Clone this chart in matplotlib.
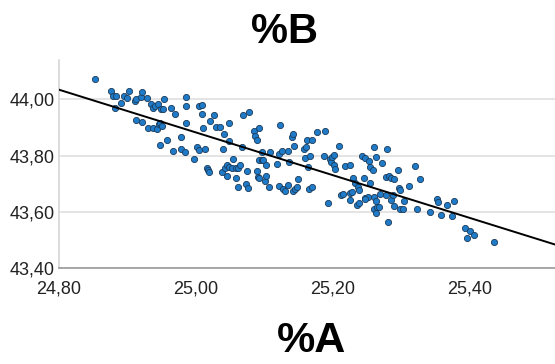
import numpy as np
import matplotlib
matplotlib.use('Agg')
import matplotlib.pyplot as plt

# %A (x) and %B (y) values
pct_a = [
    24.852, 24.876, 24.879, 24.884, 24.882, 24.891, 24.895, 24.899, 24.902, 24.911,
    24.913, 24.913, 24.920, 24.922, 24.922, 24.928, 24.930, 24.934, 24.937, 24.938,
    24.940, 24.943, 24.944, 24.946, 24.947, 24.949, 24.952, 24.948, 24.953, 24.951,
    24.958, 24.963, 24.966, 24.970, 24.978, 24.979, 24.984, 24.986, 24.986, 24.986,
    24.998, 25.001, 25.005, 25.009, 25.005, 25.009, 25.010, 25.013, 25.017, 25.018,
    25.019, 25.021, 25.027, 25.029, 25.035, 25.038, 25.040, 25.041, 25.042, 25.045,
    25.048, 25.046, 25.048, 25.049, 25.053, 25.055, 25.058, 25.059, 25.062, 25.062,
    25.065, 25.067, 25.069, 25.074, 25.076, 25.078, 25.075, 25.085, 25.087, 25.090,
    25.093, 25.089, 25.091, 25.093, 25.093, 25.096, 25.098, 25.097, 25.101, 25.102,
    25.103, 25.107, 25.109, 25.119, 25.121, 25.123, 25.122,
    25.126, 25.135, 25.136, 25.128, 25.131, 25.135, 25.142, 25.145, 25.148, 25.149,
    25.140, 25.142, 25.143, 25.158, 25.160, 25.161, 25.163, 25.164, 25.167, 25.170,
    25.166, 25.170, 25.177, 25.189, 25.188, 25.193, 25.196, 25.197, 25.199, 25.202,
    25.202, 25.203, 25.210, 25.212, 25.215, 25.218, 25.225, 25.225, 25.226, 25.229,
    25.230, 25.233, 25.235, 25.237, 25.238, 25.239, 25.243, 25.246, 25.248, 25.248,
    25.252, 25.247, 25.253, 25.254, 25.255, 25.259, 25.260, 25.260, 25.261, 25.263,
    25.264, 25.265, 25.269, 25.268, 25.264, 25.272, 25.279, 25.278, 25.282, 25.285,
    25.289, 25.286, 25.281, 25.278, 25.288, 25.290, 25.296, 25.297, 25.298, 25.299,
    25.303, 25.305, 25.311, 25.321, 25.323, 25.328, 25.342, 25.353, 25.354, 25.359,
    25.367, 25.375, 25.378, 25.394, 25.397, 25.401, 25.407, 25.436,
]
pct_b = [
    44.071, 44.030, 44.012, 44.012, 43.970, 43.987, 44.012, 44.006, 44.031, 43.994,
    44.000, 43.928, 44.010, 44.026, 43.920, 44.004, 43.899, 43.985, 43.899, 43.970,
    43.978, 43.895, 43.985, 43.912, 43.916, 43.964, 43.964, 43.837, 44.000, 43.904,
    43.856, 43.971, 43.817, 43.948, 43.865, 43.823, 43.811, 44.007, 43.977, 43.917,
    43.787, 43.831, 43.978, 43.981, 43.819, 43.948, 43.897, 43.823, 43.754, 43.747,
    43.740, 43.922, 43.946, 43.903, 43.901, 43.743, 43.822, 43.878, 43.756, 43.765,
    43.760, 43.728, 43.916, 43.852, 43.754, 43.787, 43.754, 43.720, 43.687, 43.756,
    43.768, 43.831, 43.944, 43.698, 43.684, 43.955, 43.746, 43.886, 43.869, 43.854,
    43.899, 43.746, 43.723, 43.721, 43.784, 43.784, 43.784, 43.812, 43.710, 43.727,
    43.765, 43.689, 43.811, 43.771, 43.807, 43.910, 43.692,
    43.817, 43.817, 43.777, 43.681, 43.674, 43.695, 43.674, 43.681, 43.689, 43.715,
    43.867, 43.876, 43.835, 43.822, 43.790, 43.831, 43.855, 43.758, 43.798, 43.857,
    43.681, 43.687, 43.883, 43.889, 43.800, 43.632, 43.787, 43.777, 43.796, 43.801,
    43.766, 43.752, 43.835, 43.658, 43.663, 43.762, 43.768, 43.643, 43.668, 43.672,
    43.721, 43.701, 43.623, 43.687, 43.630, 43.677, 43.800, 43.719, 43.793, 43.650,
    43.653, 43.644, 43.781, 43.760, 43.701, 43.748, 43.829, 43.653, 43.611, 43.640,
    43.597, 43.618, 43.665, 43.618, 43.796, 43.775, 43.822, 43.724, 43.728, 43.721,
    43.716, 43.642, 43.565, 43.658, 43.658, 43.620, 43.748, 43.684, 43.677, 43.611,
    43.611, 43.640, 43.690, 43.762, 43.611, 43.717, 43.600, 43.647, 43.636, 43.589,
    43.624, 43.586, 43.638, 43.544, 43.508, 43.531, 43.517, 43.491,
]

x_ticks = [24.80, 25.00, 25.20, 25.40]
x_labels = ['24,80', '25,00', '25,20', '25,40']
y_ticks = [43.40, 43.60, 43.80, 44.00]
y_labels = ['43,40', '43,60', '43,80', '44,00']

fig = plt.figure(figsize=(5.55, 3.64), dpi=100)
ax = fig.add_axes([59 / 555, 1 - 268 / 364, 1 - 59 / 555, 208 / 364])

ax.set_xlim(24.80, 25.525)
ax.set_ylim(43.40, 44.14)

ax.scatter(pct_a, pct_b, s=20, facecolor='#1f7bc8', edgecolor='#1c3b5a',
           linewidth=0.6, zorder=3)

# least squares line
k, b = np.polyfit(pct_a, pct_b, 1)
xs = np.array(ax.get_xlim())
ax.plot(xs, k * xs + b, color='black', linewidth=1.4, zorder=4)

ax.set_xticks(x_ticks)
ax.set_xticklabels(x_labels)
ax.set_yticks(y_ticks)
ax.set_yticklabels(y_labels)
ax.tick_params(length=0, labelsize=13, colors='#222222')
ax.tick_params(axis='x', pad=9)
ax.tick_params(axis='y', pad=3)
for lab in ax.get_xticklabels() + ax.get_yticklabels():
    lab.set_family(['Liberation Sans', 'DejaVu Sans'])

ax.grid(axis='y', color='#e2e2e2', linewidth=1.3, zorder=0)
ax.set_axisbelow(True)
for side in ['top', 'right']:
    ax.spines[side].set_visible(False)
ax.spines['left'].set_color('#d6d6d6')
ax.spines['left'].set_linewidth(1.2)
ax.spines['bottom'].set_color('#999999')
ax.spines['bottom'].set_linewidth(1.2)

big = ['Liberation Sans', 'DejaVu Sans']
fig.text(284 / 555, 1 - 32 / 364, '%B', ha='center', va='center',
         fontsize=30, fontweight='bold', family=big)
fig.text(311 / 555, 1 - 341 / 364, '%A', ha='center', va='center',
         fontsize=31, fontweight='bold', family=big)

fig.savefig('out.png', dpi=100)
